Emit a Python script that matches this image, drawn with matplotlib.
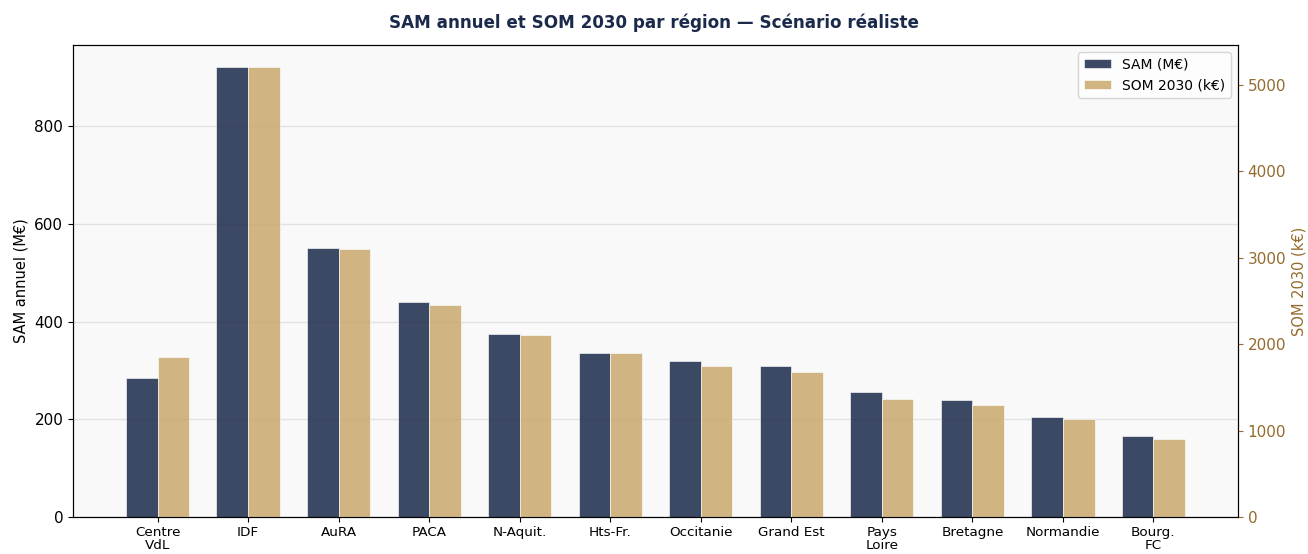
import numpy as np
import matplotlib
matplotlib.use('Agg')
import matplotlib.pyplot as plt

# Données par région
regions = ['Centre\nVdL', 'IDF', 'AuRA', 'PACA', 'N-Aquit.', 'Hts-Fr.', 'Occitanie',
           'Grand Est', 'Pays\nLoire', 'Bretagne', 'Normandie', 'Bourg.\nFC']
sam = [285, 920, 550, 440, 375, 335, 320, 310, 255, 240, 205, 165]          # M€
som_2030 = [1850, 5200, 3100, 2450, 2100, 1900, 1750, 1680, 1360, 1290, 1130, 900]  # k€

navy = '#1B2A4A'
gold = '#C9A96E'
brown = '#946B2D'

fig = plt.figure(figsize=(13.08, 5.54), dpi=100)
ax = fig.add_axes([0.0558, 0.0668, 0.8907, 0.852])
ax.set_facecolor('#f9f9f9')

x = np.arange(len(regions))
w = 0.35

ax.bar(x - w / 2, sam, w, color=navy, alpha=0.85, edgecolor='white', linewidth=0.5,
       label='SAM (M€)')
ax.set_ylabel('SAM annuel (M€)', fontsize=10.5)
ax.set_ylim(0, max(sam) * 1.05)
ax.grid(axis='y', color='#dddddd', linewidth=1, alpha=0.8)
ax.set_axisbelow(True)
ax.set_xticks(x)
ax.set_xticklabels(regions, fontsize=9.7, linespacing=1.0)
ax.tick_params(axis='x', pad=3)
ax.tick_params(axis='y', labelsize=11)

ax2 = ax.twinx()
ax2.bar(x + w / 2, som_2030, w, color=gold, alpha=0.85, edgecolor='white', linewidth=0.5,
        label='SOM 2030 (k€)')
ax2.set_ylim(0, max(som_2030) * 1.05)
ax2.set_ylabel('SOM 2030 (k€)', color=brown, fontsize=10.5)
ax2.tick_params(axis='y', colors=brown, labelsize=11)
ax2.spines['right'].set_color('black')

h1, l1 = ax.get_legend_handles_labels()
h2, l2 = ax2.get_legend_handles_labels()
ax2.legend(h1 + h2, l1 + l2, loc='upper right', fontsize=10)

fig.suptitle('SAM annuel et SOM 2030 par région — Scénario réaliste',
             fontsize=12.1, fontweight='bold', color=navy, y=0.975)

fig.savefig('out.png', dpi=100)
